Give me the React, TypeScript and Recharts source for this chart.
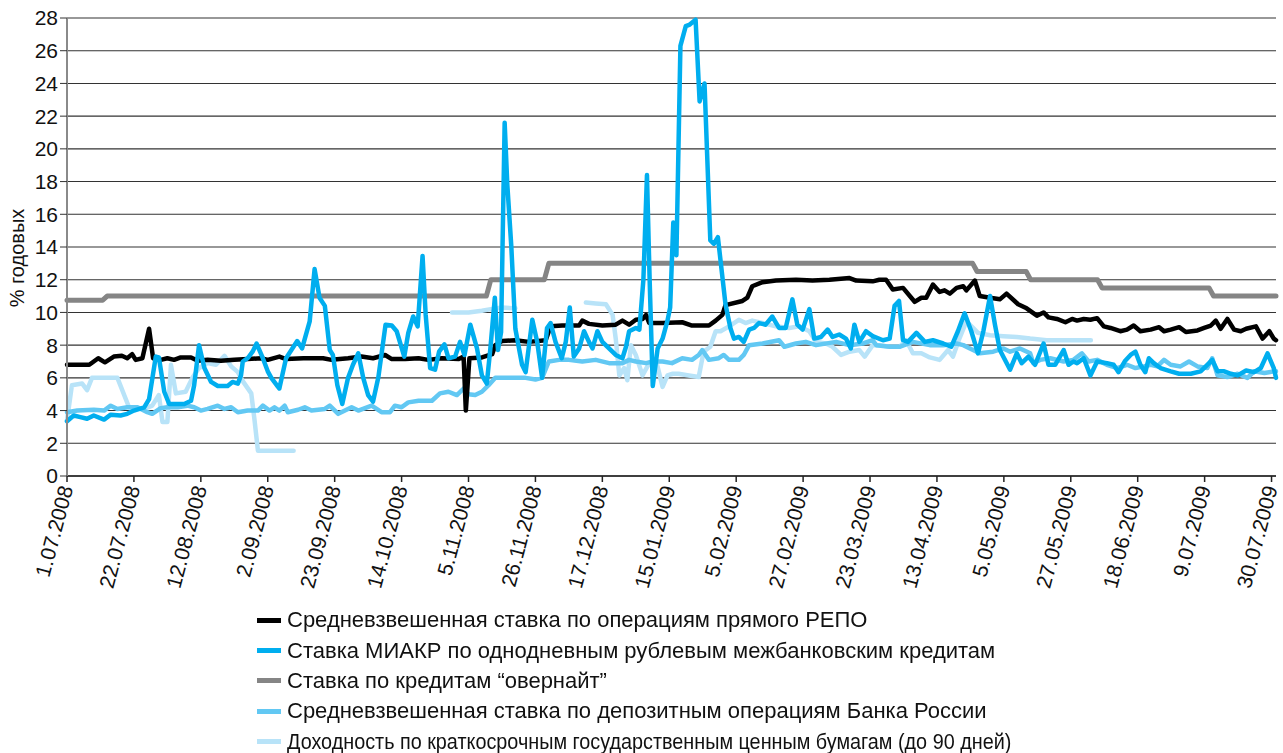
import React from "react";
import { LineChart, Line, XAxis, YAxis, CartesianGrid } from "recharts";

// x = trading-day index from 1.07.2008, tick label every 15 days
const TICK_LABELS = [
  "1.07.2008", "22.07.2008", "12.08.2008", "2.09.2008", "23.09.2008",
  "14.10.2008", "5.11.2008", "26.11.2008", "17.12.2008", "15.01.2009",
  "5.02.2009", "27.02.2009", "23.03.2009", "13.04.2009", "5.05.2009",
  "27.05.2009", "18.06.2009", "9.07.2009", "30.07.2009",
];
const TICK_STEP = 15;
const Y_TICKS = [0, 2, 4, 6, 8, 10, 12, 14, 16, 18, 20, 22, 24, 26, 28];

type Pt = [number, number | null];

const REPO: Pt[] = [
  [0, 6.8], [5, 6.8], [7, 7.2], [8.5, 6.95], [10.5, 7.3], [12.3, 7.35], [13.5, 7.2], [14.6, 7.45],
  [15.4, 7.1], [16.9, 7.2], [18.4, 9.0], [19.3, 7.2], [21, 7.1], [22.5, 7.2], [24, 7.1], [25.5, 7.25],
  [27.8, 7.25], [29.3, 7.05], [31.5, 7.1], [34.5, 7.05], [37.5, 7.1], [40.5, 7.15], [43.5, 7.2], [45, 7.1],
  [47.6, 7.3], [49.1, 7.15], [53, 7.2], [57.4, 7.2], [59.3, 7.1], [63, 7.2], [66, 7.3], [68.6, 7.2],
  [71.3, 7.4], [72.8, 7.15], [75.8, 7.15], [78.8, 7.2], [81, 7.1], [84, 7.2], [87.8, 7.15], [88.9, 7.3],
  [89.4, 4.0], [90.2, 7.2], [93, 7.25], [95.3, 7.45], [96, 8.0], [97.5, 8.25], [100.5, 8.3], [103.5, 8.2],
  [107.3, 8.3], [108.4, 9.15], [111, 9.2], [114.8, 9.2], [115.5, 9.5], [117, 9.3], [120, 9.2], [123, 9.25],
  [124.5, 9.5], [126, 9.25], [127.5, 9.55], [129, 9.6], [129.8, 9.85], [130.5, 9.35], [133.5, 9.35],
  [137.9, 9.4], [140.1, 9.2], [143.9, 9.2], [145.4, 9.5], [146.9, 9.85], [147.6, 10.45], [151.4, 10.7],
  [152.5, 10.9], [153.6, 11.6], [155.9, 11.85], [158.9, 11.95], [163.4, 12.0], [167.1, 11.95], [170.9, 12.0],
  [175.4, 12.1], [176.9, 11.95], [180.6, 11.9], [182.1, 12.0], [183.6, 12.0], [185.1, 11.4], [187.4, 11.5],
  [190, 10.65], [191.5, 10.9], [192.6, 10.9], [194.1, 11.7], [195.6, 11.25], [196.7, 11.35], [197.9, 11.15],
  [199.4, 11.5], [200.9, 11.6], [201.6, 11.35], [203.5, 11.95], [204.6, 11.0], [206.9, 10.9], [209.1, 10.8],
  [210.6, 11.15], [213.2, 10.5], [215.1, 10.25], [217.4, 9.8], [218.9, 10.0], [220, 9.7], [221.9, 9.6],
  [223.8, 9.4], [225.3, 9.6], [226.4, 9.5], [227.9, 9.6], [229.4, 9.55], [230.9, 9.65], [232.4, 9.15],
  [233.9, 9.05], [236.1, 8.85], [237.6, 8.95], [239.1, 9.2], [240.6, 8.85], [242.9, 8.95], [244.8, 9.1],
  [245.9, 8.85], [247.4, 8.95], [249.3, 9.1], [250.8, 8.8], [253.4, 8.9], [254.9, 9.05], [256.4, 9.2],
  [257.5, 9.5], [258.6, 9.0], [260.1, 9.6], [261.6, 8.95], [263.1, 8.85], [264.3, 9.0], [266.5, 9.15],
  [268, 8.4], [269.5, 8.85], [270.5, 8.4], [271, 8.3],
];

const MIACR: Pt[] = [
  [0, 3.35], [1.5, 3.7], [3, 3.6], [4.5, 3.5], [6, 3.7], [8.3, 3.45], [9.8, 3.75], [12, 3.7], [13.5, 3.8],
  [15, 4.0], [17.3, 4.2], [18.4, 4.7], [19.9, 7.3], [20.6, 7.25], [21.8, 5.15], [22.9, 4.4], [26.3, 4.4],
  [27.8, 4.6], [28.5, 5.55], [29.6, 8.0], [30.8, 6.6], [32.3, 5.75], [33.8, 5.5], [36, 5.5], [37.1, 5.75],
  [38.3, 5.65], [39, 6.15], [39.4, 7.0], [40.5, 7.2], [41.6, 7.6], [42.5, 8.1], [43.9, 7.2], [45, 6.4],
  [45.8, 6.0], [47.3, 5.45], [47.6, 5.35], [49.1, 7.2], [50.3, 7.7], [51.6, 8.25], [52.7, 7.8], [54.4, 9.45],
  [55.5, 12.65], [56.6, 10.9], [57.8, 10.4], [58.9, 7.7], [59.6, 7.4], [60.6, 5.55], [61.7, 4.4], [63, 6.0],
  [64.1, 6.8], [65.3, 7.5], [66.4, 6.0], [67.5, 4.95], [68.6, 4.55], [69.8, 6.05], [71.4, 9.25], [72.8, 9.2],
  [73.9, 8.85], [75.6, 7.3], [76.5, 8.75], [77.6, 9.75], [78.6, 9.15], [79.7, 13.45], [80.4, 9.85],
  [81.4, 6.6], [82.5, 6.5], [83.4, 7.6], [84.6, 8.05], [85.5, 7.2], [87, 7.3], [88.1, 8.2], [89.1, 7.4],
  [90.4, 9.25], [91.9, 7.8], [93, 6.15], [94.1, 5.65], [94.9, 7.8], [95.9, 10.9], [96.6, 7.7], [97.3, 8.8],
  [98.1, 21.6], [98.7, 17.8], [99.6, 14.0], [100.5, 9.0], [102, 6.8], [102.8, 6.35], [104.3, 9.55],
  [105.4, 8.2], [106.5, 6.0], [107.6, 9.05], [108.4, 9.35], [109.5, 8.2], [110.9, 7.2], [111.8, 8.2],
  [112.7, 10.3], [113.6, 7.3], [114.8, 7.8], [115.9, 8.85], [117, 8.2], [117.8, 7.8], [118.9, 8.85],
  [120, 8.2], [121.5, 7.8], [123, 7.4], [124.5, 7.2], [125.3, 7.9], [126, 8.85], [127.5, 9.05], [128.3, 8.95],
  [129.2, 12], [130, 18.4], [130.6, 12], [131.3, 5.5], [132.4, 7.8], [133.5, 8.4], [134.6, 9.5],
  [135.2, 10.3], [135.9, 15.5], [136.6, 13.5], [137.5, 26.3], [138.7, 27.5], [139.6, 27.6], [140.9, 27.9],
  [141.8, 22.9], [142.9, 24.0], [144.2, 14.4], [145, 14.2], [145.9, 14.6], [147.6, 10.5], [148.7, 9.05],
  [149.5, 8.4], [150.6, 8.5], [151.7, 8.2], [152.9, 8.95], [154, 9.05], [155.1, 9.35], [156.6, 9.25],
  [158.1, 9.75], [159.6, 9.05], [161.1, 9.05], [162.6, 10.8], [163.7, 9.25], [164.9, 8.95], [166.4, 10.2],
  [167.5, 8.4], [169, 8.5], [170.5, 8.95], [171.6, 8.5], [173.1, 8.65], [174.6, 8.4], [175.7, 7.8],
  [176.5, 9.25], [177.6, 8.2], [179.1, 8.85], [180.6, 8.55], [182.9, 8.3], [184.4, 8.4], [185.5, 10.4],
  [186.5, 10.7], [187.4, 8.3], [188.5, 8.2], [190.4, 8.75], [192.3, 8.2], [194.1, 8.3], [196.4, 8.1],
  [198.2, 7.9], [199.7, 8.85], [201.2, 9.95], [202.7, 8.85], [204.2, 7.5], [205.4, 8.85], [206.9, 11.0],
  [208, 9.25], [209.1, 7.7], [211.4, 6.5], [212.9, 7.5], [214, 6.9], [215.5, 7.3], [217, 6.8], [218.9, 8.1],
  [220, 6.8], [221.5, 6.8], [223.4, 7.7], [224.5, 6.8], [225.6, 7.0], [226.4, 6.9], [227.9, 7.2],
  [229.4, 6.15], [230.9, 7.0], [233.1, 6.9], [234.6, 6.8], [235.7, 6.35], [237.2, 7.05], [238.4, 7.4],
  [239.5, 7.6], [240.6, 6.8], [241.7, 6.35], [242.5, 7.2], [243.6, 6.9], [245.1, 6.6], [247.4, 6.4],
  [249.3, 6.25], [251.9, 6.25], [254.1, 6.4], [255.6, 6.8], [256.7, 7.1], [257.9, 6.4], [259.4, 6.4],
  [260.9, 6.25], [262.4, 6.15], [264.3, 6.45], [266.1, 6.35], [267.6, 6.6], [269.1, 7.5], [270.5, 6.6],
  [271, 6.0],
];

const OVERNIGHT: Pt[] = [
  [0, 10.75], [8, 10.75], [9, 11], [94, 11], [95, 12], [107, 12], [108, 13], [203, 13], [204, 12.5],
  [215, 12.5], [216, 12], [231, 12], [232, 11.5], [256, 11.5], [257, 11], [271, 11],
];

const DEPOSIT: Pt[] = [
  [0, 3.9], [2.3, 4.0], [6, 4.05], [8.3, 4.0], [9.8, 4.3], [11.3, 4.1], [13.5, 4.2], [15.8, 4.2], [18, 3.9],
  [19.1, 3.8], [21, 4.15], [22.5, 4.2], [24.8, 4.2], [27, 4.3], [28.5, 4.2], [30, 4.0], [31.5, 4.1],
  [33.8, 4.3], [35.3, 4.1], [36.8, 4.2], [38.3, 3.9], [40.5, 4.0], [42.8, 4.0], [43.9, 4.3], [45.4, 4.0],
  [46.5, 4.2], [47.6, 4.0], [48.8, 4.3], [49.5, 3.9], [51.8, 4.05], [53.3, 4.2], [54.8, 4.0], [57.8, 4.1],
  [58.9, 4.3], [60.8, 3.8], [62.3, 4.0], [63.8, 4.2], [65.3, 4.0], [66.8, 4.15], [68.3, 4.3], [70.5, 3.9],
  [72.4, 3.9], [73.5, 4.3], [75, 4.2], [76.5, 4.5], [78.8, 4.6], [81.8, 4.6], [83.6, 5.05], [85.5, 5.15],
  [87.4, 4.95], [88.9, 5.35], [90, 5.0], [91.5, 4.95], [93, 5.15], [94.5, 5.55], [96, 6.0], [98.3, 6.0],
  [100.5, 6.0], [102.8, 6.0], [105, 5.9], [106.5, 6.0], [108, 7.0], [110.3, 7.1], [112.5, 7.1], [115.5, 7.0],
  [118.5, 7.1], [121.5, 6.9], [124.5, 6.9], [126, 7.1], [127.5, 7.0], [129.8, 6.9], [131.3, 7.0],
  [133.5, 7.0], [135.6, 6.9], [137.9, 7.2], [140.1, 7.1], [141.6, 7.4], [142.4, 7.7], [143.9, 7.1],
  [146.1, 7.2], [147.2, 7.4], [148.4, 7.1], [150.6, 7.1], [151.7, 7.4], [152.9, 8.0], [155.9, 8.1],
  [159.6, 8.3], [160.8, 7.9], [163.4, 8.1], [165.6, 8.2], [167.9, 8.0], [172.4, 8.2], [175.4, 8.0],
  [178.4, 8.1], [180.6, 8.3], [181.4, 8.0], [184.4, 7.9], [186.6, 7.9], [189.6, 8.2], [193.4, 8.0],
  [196.4, 8.0], [199.4, 8.1], [200.9, 8.0], [202.4, 7.8], [204.6, 7.5], [207.6, 7.6], [209.9, 7.8],
  [211.4, 7.6], [213.6, 7.8], [215.9, 7.5], [216.6, 6.9], [218.1, 7.1], [220.4, 7.2], [223.4, 7.0],
  [225.6, 7.1], [227.5, 7.5], [229, 7.0], [230.9, 7.1], [233.1, 6.8], [235.4, 6.6], [237.6, 6.8],
  [239.5, 6.6], [241.4, 6.7], [242.9, 6.8], [244.4, 6.7], [245.9, 7.1], [247.4, 6.8], [249.6, 6.7],
  [251.5, 7.0], [253.4, 6.7], [255.6, 6.6], [256.7, 7.2], [257.9, 6.15], [260.1, 6.05], [262.4, 6.25],
  [264.6, 6.0], [266.1, 6.4], [268.4, 6.3], [270.6, 6.4], [271, 6.4],
];

// null = no data (gaps in the series)
const GOVT: Pt[] = [
  [0, 3.4], [1.1, 5.55], [3.4, 5.65], [4.5, 5.25], [5.6, 6.0], [11.3, 6.0], [13.9, 4.2], [17.3, 4.1],
  [19.1, 4.3], [20.6, 4.95], [21.4, 3.3], [22.5, 3.3], [23.3, 6.8], [24.4, 5.05], [26.6, 5.15], [28.1, 6.0],
  [29.6, 6.6], [31.5, 6.9], [33.4, 6.8], [35.3, 7.35], [36.8, 6.7], [38.3, 6.35], [39.4, 5.8], [41.3, 5.05],
  [42, 3.5], [42.8, 1.55], [50.8, 1.55], [68, null], [86.3, 10.0], [90, 10.0], [93, 10.1], [95, 10.2],
  [97.5, 10.3], [100.5, 10.25], [108, null], [116.3, 10.6], [118.5, 10.55], [120.8, 10.5], [122.3, 9.85],
  [123, 8.4], [123.8, 6.15], [124.9, 6.6], [125.6, 5.85], [126.4, 8.0], [127.5, 7.4], [129, 6.15],
  [130.5, 6.9], [132, 7.1], [133.5, 5.45], [134.6, 6.15], [135.8, 6.25], [137.1, 6.25], [139.4, 6.15],
  [141.6, 6.05], [142.7, 7.6], [144.2, 7.9], [145.4, 8.85], [146.5, 8.85], [148.4, 9.15], [150.6, 9.55],
  [152.1, 9.35], [153.6, 9.5], [155.9, 9.35], [158.9, 9.15], [161.9, 9.05], [164.1, 9.15], [166.4, 8.85],
  [167.9, 8.2], [170.1, 8.1], [171.6, 7.9], [173.5, 7.4], [175.4, 7.6], [177.6, 7.7], [178.8, 7.3],
  [180.6, 8.0], [182.1, 8.0], [184.4, 7.9], [186.6, 7.9], [188.1, 8.3], [189.6, 7.5], [191.5, 7.5],
  [193.4, 7.25], [195.6, 7.1], [197.5, 7.7], [198.6, 7.3], [200.1, 8.45], [201.6, 9.45], [203.1, 9.05],
  [204.2, 8.75], [206.9, 8.6], [209.9, 8.55], [212.9, 8.5], [215.9, 8.4], [219.6, 8.3], [225.6, 8.3],
  [229.5, 8.3],
];

const SERIES = [
  { name: "Средневзвешенная ставка по операциям прямого РЕПО", color: "#000000", data: REPO },
  { name: "Ставка МИАКР по однодневным рублевым межбанковским кредитам", color: "#00aeef", data: MIACR },
  { name: "Ставка по кредитам \u201cовернайт\u201d", color: "#858585", data: OVERNIGHT },
  { name: "Средневзвешенная ставка по депозитным операциям Банка России", color: "#62c8f3", data: DEPOSIT },
  { name: "Доходность по краткосрочным государственным ценным бумагам (до 90 дней)", color: "#b8e3f8", data: GOVT },
];
// drawing order, back to front
const DRAW_ORDER = [2, 4, 3, 0, 1];

const FONT = "'Liberation Sans', Arial, Helvetica, sans-serif";

const toPoints = (arr: Pt[]) => arr.map(([x, v]) => ({ x, v }));

function XTick(props: any) {
  const { x, y, payload } = props;
  const label = TICK_LABELS[Math.round(payload.value / TICK_STEP)];
  const ax = x - 1;
  const ay = y + 2;
  return (
    <text
      x={ax}
      y={ay}
      transform={`rotate(-75 ${ax} ${ay})`}
      textAnchor="end"
      dy="0.36em"
      fontSize={21}
      fontFamily={FONT}
      fill="#111"
    >
      {label}
    </text>
  );
}

export default function App() {
  return (
    <div style={{ position: "fixed", left: 0, top: 0, width: 1283, height: 753, background: "#fff" }}>
      <LineChart width={1283} height={600} margin={{ top: 18, right: 7, left: 0, bottom: 0 }}>
        <CartesianGrid vertical={false} stroke="#333" strokeWidth={1.1} />
        <XAxis
          type="number"
          dataKey="x"
          domain={[0, 271]}
          ticks={TICK_LABELS.map((_, k) => k * TICK_STEP)}
          interval={0}
          height={124}
          stroke="#222"
          strokeWidth={1.5}
          tickSize={6}
          tick={<XTick />}
        />
        <YAxis
          type="number"
          domain={[0, 28]}
          ticks={Y_TICKS}
          interval={0}
          width={67}
          stroke="#8a8a8a"
          strokeWidth={2}
          tickSize={7}
          tickLine={{ stroke: "#333", strokeWidth: 1 }}
          tick={{ fontSize: 21, fontFamily: FONT, fill: "#111" }}
          label={{
            content: () => (
              <text
                x={24}
                y={258}
                transform="rotate(-90 24 258)"
                textAnchor="middle"
                fontSize={20}
                fontFamily={FONT}
                fill="#111"
              >
                % годовых
              </text>
            ),
          }}
        />
        {DRAW_ORDER.map((k) => (
          <Line
            key={k}
            data={toPoints(SERIES[k].data)}
            dataKey="v"
            type="linear"
            stroke={SERIES[k].color}
            strokeWidth={k === 2 ? 5 : 4.5}
            strokeLinejoin="round"
            strokeLinecap="round"
            dot={false}
            activeDot={false}
            isAnimationActive={false}
          />
        ))}
      </LineChart>
      <div style={{ position: "absolute", left: 257, top: 605, fontFamily: FONT, fontSize: 22, color: "#111" }}>
        {SERIES.map((s, k) => (
          <div key={s.name} style={{ display: "flex", alignItems: "center", height: 30.4, whiteSpace: "nowrap" }}>
            <span style={{ display: "inline-block", width: 24, height: 5, background: s.color, marginRight: 6 }} />
            <span
              style={{
                display: "inline-block",
                transform: k === 4 ? "scaleX(0.9)" : undefined,
                transformOrigin: "left center",
              }}
            >
              {s.name}
            </span>
          </div>
        ))}
      </div>
    </div>
  );
}
